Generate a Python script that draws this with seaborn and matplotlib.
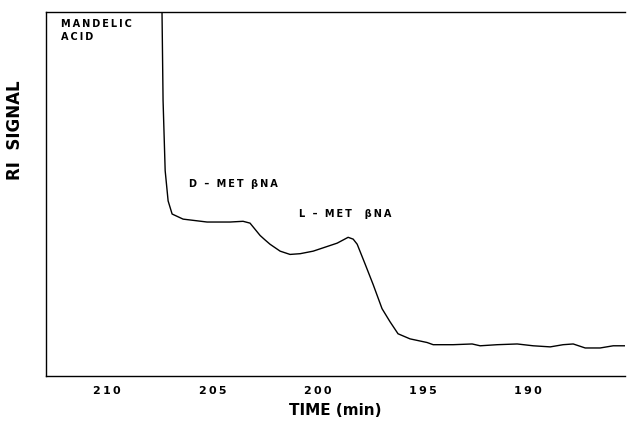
import matplotlib
matplotlib.use("Agg")
import matplotlib.pyplot as plt
import seaborn as sns
import pandas as pd

# Data (time in min, RI signal in arbitrary units)
time_min = [207.45, 207.39, 207.34, 207.24, 207.10, 206.91, 206.39, 205.25, 204.16,
            203.54, 203.21, 202.73, 202.50, 202.26, 201.78, 201.31, 200.83, 200.21,
            199.64, 199.07, 198.55, 198.31, 198.12, 197.74, 197.36, 196.94, 196.56,
            196.18, 195.61, 194.80, 194.51, 193.56, 192.66, 192.28, 191.47, 190.52,
            189.76, 188.95, 188.34, 187.86, 187.29, 186.58, 185.96, 185.39]
ri_signal = [108.0, 100.0, 75.7, 56.4, 48.1, 44.5, 43.1, 42.3, 42.3,
             42.5, 42.0, 38.6, 37.4, 36.2, 34.3, 33.4, 33.6, 34.3,
             35.4, 36.5, 38.1, 37.6, 36.2, 30.7, 25.1, 18.5, 14.9,
             11.6, 10.2, 9.2, 8.6, 8.6, 8.8, 8.3, 8.6, 8.8,
             8.3, 8.0, 8.6, 8.8, 7.7, 7.7, 8.3, 8.3]

x_ticks = [210, 205, 200, 195, 190]
x_tick_labels = ["210", "205", "200", "195", "190"]

annotations = ["MANDELIC\nACID", "D \u2013 MET \u03b2NA", "L \u2013 MET  \u03b2NA"]


def spaced(s):
    # widen letter spacing with thin spaces, like the original lettering
    return "\n".join("\u2009".join(list(line)) for line in s.split("\n"))


sns.set_style("white")
plt.rcParams['font.family'] = ['DejaVu Sans']
plt.rcParams['text.color'] = 'black'
plt.rcParams['xtick.color'] = 'black'

df = pd.DataFrame({"time": time_min, "signal": ri_signal})

fig = plt.figure(figsize=(6.27, 4.23), dpi=100)
ax = fig.add_axes([46/627, 1 - 376/423, (625 - 46)/627, (376 - 12)/423])

sns.lineplot(data=df, x="time", y="signal", ax=ax, color="black", linewidth=1.0,
             sort=False, estimator=None)

ax.set_xlim(212.9, 185.4)
ax.set_ylim(0, 100)

ax.set_xticks(x_ticks)
ax.set_xticklabels([spaced(t) for t in x_tick_labels], fontsize=8,
                   fontweight="bold", color="black")
ax.set_yticks([])
ax.tick_params(axis="x", direction="inout", length=7, width=1, color="black", pad=4)

for side in ["left", "top", "bottom"]:
    ax.spines[side].set_visible(True)
    ax.spines[side].set_color("black")
    ax.spines[side].set_linewidth(1.0)
ax.spines["right"].set_visible(False)

ax.set_xlabel("")
ax.set_ylabel("")

fig.text(335 / 627, 1 - 410 / 423, "TIME (min)", ha="center", va="center",
         fontsize=11, fontweight="semibold", color="black")
fig.text(15 / 627, 1 - 130 / 423, "RI  SIGNAL", ha="center", va="center",
         rotation=90, fontsize=12, fontweight="semibold", color="black")

ax.text(212.2, 98, spaced(annotations[0]), ha="left", va="top", fontsize=7,
        fontweight="bold", linespacing=1.35, color="black")
ax.text(206.1, 52.7, spaced(annotations[1]), ha="left", va="center", fontsize=7,
        fontweight="bold", color="black")
ax.text(200.9, 44.5, spaced(annotations[2]), ha="left", va="center", fontsize=7,
        fontweight="bold", color="black")

fig.savefig("out.png", dpi=100)
